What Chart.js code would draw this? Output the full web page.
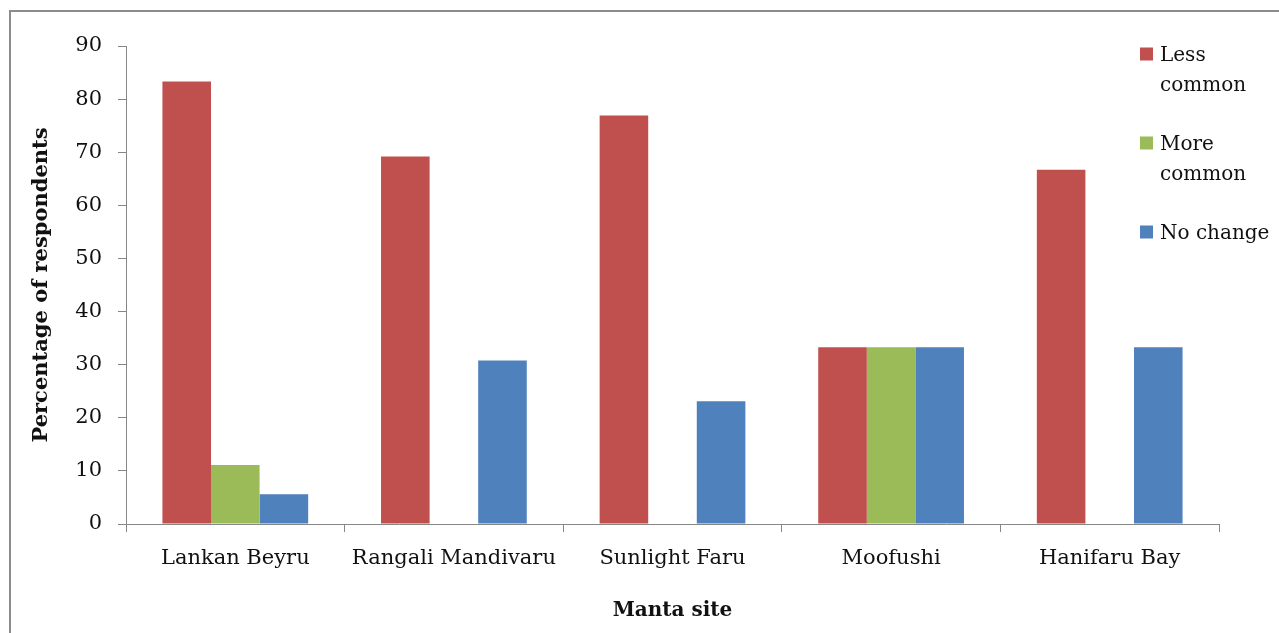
<!DOCTYPE html>
<html>
<head>
<meta charset="utf-8">
<title>Manta sightings by site</title>
<script src="https://cdn.jsdelivr.net/npm/chart.js@4/dist/chart.umd.min.js"></script>
<style>
  html, body { margin: 0; padding: 0; background: #ffffff; }
  #wrap { width: 1279px; height: 633px; }
</style>
</head>
<body>
<div id="wrap"><canvas id="c" width="1279" height="633"></canvas></div>
<script>
// Survey: perceived change in manta abundance per site (% of respondents)
const sites = ['Lankan Beyru', 'Rangali Mandivaru', 'Sunlight Faru', 'Moofushi', 'Hanifaru Bay'];
const seriesLabels = ['Less common', 'More common', 'No change'];
const lessCommon = [83.3, 69.2, 76.9, 33.3, 66.7];
const moreCommon = [11.1, 0, 0, 33.3, 0];
const noChange = [5.6, 30.8, 23.1, 33.3, 33.3];
const yTicks = [0, 10, 20, 30, 40, 50, 60, 70, 80, 90];

const colors = ['#C0504D', '#9BBB59', '#4F81BD'];
const axisColor = '#878787';
const textColor = '#111111';
const serif = '"DejaVu Serif", "Liberation Serif", serif';

// Thin frame along the top and left edges of the figure
const framePlugin = {
  id: 'frame',
  beforeDraw(chart) {
    const ctx = chart.ctx;
    ctx.save();
    ctx.strokeStyle = '#8c8c8c';
    ctx.lineWidth = 2;
    ctx.beginPath();
    ctx.moveTo(10, chart.height);
    ctx.lineTo(10, 11);
    ctx.lineTo(chart.width, 11);
    ctx.stroke();
    ctx.restore();
  }
};

// Legend drawn in the upper-right corner with word-wrapped labels
const wrapLegendPlugin = {
  id: 'wrapLegend',
  afterDraw(chart) {
    const ctx = chart.ctx;
    const o = chart.options.plugins.wrapLegend;
    ctx.save();
    ctx.font = o.font;
    ctx.textBaseline = 'middle';
    ctx.textAlign = 'left';
    let y = o.top;
    chart.data.datasets.forEach((ds) => {
      const words = ds.label.split(' ');
      const lines = [];
      let cur = '';
      words.forEach((w) => {
        const test = cur ? cur + ' ' + w : w;
        if (cur && ctx.measureText(test).width > o.maxWidth) {
          lines.push(cur);
          cur = w;
        } else {
          cur = test;
        }
      });
      if (cur) lines.push(cur);
      ctx.fillStyle = ds.backgroundColor;
      ctx.fillRect(o.x, y - o.box / 2 - 2, o.box, o.box);
      ctx.fillStyle = textColor;
      lines.forEach((ln, i) => {
        ctx.fillText(ln, o.x + o.box + 7, y + i * o.lineHeight);
      });
      y += lines.length * o.lineHeight + o.gap;
    });
    ctx.restore();
  }
};

const datasetValues = [lessCommon, moreCommon, noChange];

new Chart(document.getElementById('c'), {
  type: 'bar',
  data: {
    labels: sites,
    datasets: seriesLabels.map((name, i) => ({
      label: name,
      data: datasetValues[i],
      backgroundColor: colors[i],
      borderWidth: 0,
      barPercentage: 1.0,
      categoryPercentage: 0.6667
    }))
  },
  options: {
    responsive: false,
    devicePixelRatio: 1,
    animation: false,
    layout: { padding: { left: 20, right: 60, top: 46, bottom: 0 } },
    plugins: {
      legend: { display: false },
      tooltip: { enabled: false },
      wrapLegend: { x: 1140, top: 56, box: 13, lineHeight: 30, gap: 29, maxWidth: 115, font: '20px ' + serif }
    },
    scales: {
      x: {
        afterFit(s) { s.height = 109; },
        border: { display: true, color: axisColor, width: 1 },
        grid: { display: true, offset: true, drawOnChartArea: false, drawTicks: true, tickLength: 8, color: axisColor },
        ticks: { color: textColor, font: { family: serif, size: 21 }, padding: 14, maxRotation: 0, autoSkip: false },
        title: {
          display: true,
          text: 'Manta site',
          color: textColor,
          font: { family: serif, size: 20, weight: 'bold' },
          padding: { top: 0, bottom: 10 }
        }
      },
      y: {
        min: 0,
        max: 90,
        afterFit(s) { s.width = 106; },
        afterBuildTicks(s) { s.ticks = yTicks.map((v) => ({ value: v })); },
        border: { display: true, color: axisColor, width: 1 },
        grid: { display: true, drawOnChartArea: false, drawTicks: true, tickLength: 8, color: axisColor },
        ticks: { color: textColor, font: { family: serif, size: 21 }, padding: 16 },
        title: {
          display: true,
          text: 'Percentage of respondents',
          color: textColor,
          font: { family: serif, size: 21, weight: 'bold' },
          padding: { top: 9, bottom: 0 }
        }
      }
    }
  },
  plugins: [framePlugin, wrapLegendPlugin]
});
</script>
</body>
</html>
